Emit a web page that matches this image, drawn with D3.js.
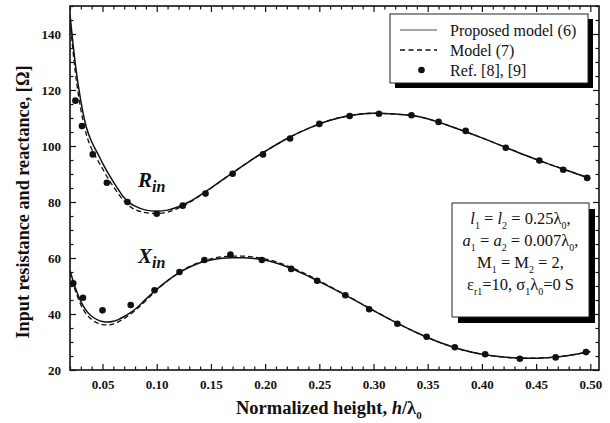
<!DOCTYPE html>
<html>
<head>
<meta charset="utf-8">
<script src="https://cdn.jsdelivr.net/npm/d3@7/dist/d3.min.js"></script>
<style>
  html, body { margin: 0; padding: 0; background: #fff; }
  svg { display: block; }
  svg text { font-family: "Liberation Serif", "Times New Roman", serif; fill: #111; }
</style>
</head>
<body>
<svg id="chart" width="610" height="423"></svg>
<script>
// ---------- DATA ----------
const hModel = [0.02,0.025,0.03,0.035,0.04,0.045,0.05,0.055,0.06,0.065,0.07,0.075,0.08,0.09,0.10,0.11,0.12,0.13,0.14,0.15,0.16,0.17,0.18,0.19,0.20,0.22,0.24,0.26,0.28,0.30,0.32,0.34,0.36,0.38,0.40,0.42,0.44,0.46,0.48,0.50];

const rProposed = [147,129,116,106.8,101.5,97.7,93.9,90.4,87.2,84.2,81.5,79.7,78.5,77.1,76.7,77.1,78.3,80.1,82.4,85.0,87.7,90.4,93.1,95.7,98.1,102.6,106.3,109.2,111.0,111.7,111.4,110.6,108.5,105.8,102.9,99.8,96.7,93.8,91.1,88.4];
const rModel7   = [145,126,113,104.2,98.9,95.3,91.9,88.5,85.5,82.7,80.3,78.5,77.3,76.2,75.9,76.4,77.8,79.8,82.3,84.9,87.7,90.4,93.1,95.7,98.1,102.6,106.3,109.2,111.0,111.7,111.4,110.6,108.5,105.8,102.9,99.8,96.7,93.8,91.1,88.4];

const xProposed = [55.5,49.3,44.5,41.2,39.2,38.0,37.3,37.1,37.4,38.1,39.1,40.3,41.7,45.3,48.8,51.9,54.6,56.7,58.3,59.3,59.9,60.1,60.1,59.8,59.2,56.9,53.5,49.6,45.5,41.2,37.1,33.3,30.0,27.4,25.6,24.6,24.2,24.4,25.2,26.6];
const xModel7   = [55.0,48.3,43.3,40.0,38.0,36.8,36.2,36.1,36.5,37.3,38.4,39.7,41.2,44.8,48.5,51.8,54.6,56.9,58.6,59.7,60.4,60.7,60.7,60.3,59.7,57.3,53.8,49.8,45.6,41.3,37.1,33.3,30.0,27.4,25.6,24.6,24.2,24.4,25.2,26.6];

const refHR = [0.025,0.031,0.041,0.054,0.073,0.100,0.124,0.145,0.170,0.198,0.223,0.250,0.278,0.305,0.335,0.360,0.385,0.422,0.453,0.475,0.497];
const refR  = [116.2,107.1,97.0,86.9,80.0,75.8,78.7,83.0,90.1,97.0,102.7,107.9,110.7,111.5,111.0,108.6,105.4,99.4,94.8,91.5,88.6];

const refHX = [0.023,0.032,0.050,0.076,0.098,0.121,0.144,0.168,0.197,0.224,0.248,0.274,0.296,0.322,0.349,0.375,0.403,0.435,0.468,0.496];
const refX  = [51.0,45.8,41.3,43.2,48.5,55.0,59.3,61.2,59.3,56.1,51.9,46.7,41.7,36.5,31.9,28.1,25.6,24.0,24.5,26.4];

const xMajorTicks = [0.05,0.10,0.15,0.20,0.25,0.30,0.35,0.40,0.45,0.50];
const xTickLabels = ["0.05","0.10","0.15","0.20","0.25","0.30","0.35","0.40","0.45","0.50"];
const yMajorTicks = [20,40,60,80,100,120,140];

const legendLabels = ["Proposed model (6)", "Model (7)", "Ref. [8], [9]"];

// ---------- LAYOUT ----------
const SERIF = '"Liberation Serif","Times New Roman",serif';
const svg = d3.select("#chart");
const L = 70, R = 599, T = 6, B = 370;

const x = d3.scaleLinear().domain([0.02, 0.508]).range([L, R]);
const y = d3.scaleLinear().domain([20, 150]).range([B, T]);

const xMinor = d3.range(2, 51).map(d => d / 100).filter(v => !xMajorTicks.some(m => Math.abs(m - v) < 1e-9));
const yMinor = d3.range(20, 151, 5).filter(v => v % 20 !== 0);

function styleAxis(g) {
  g.select(".domain").remove();
  g.selectAll(".tick line").attr("stroke", "#111").attr("stroke-width", 1.2);
  g.selectAll(".tick text")
    .style("font-family", SERIF)
    .style("font-weight", "bold").style("font-size", "13px").attr("fill", "#111");
}

// bottom
svg.append("g").attr("transform", `translate(0,${B})`)
  .call(d3.axisBottom(x).tickValues(xMajorTicks).tickFormat((d,i)=>xTickLabels[i]).tickSizeInner(-6).tickSizeOuter(0).tickPadding(10))
  .call(styleAxis);
svg.append("g").attr("transform", `translate(0,${B})`)
  .call(d3.axisBottom(x).tickValues(xMinor).tickFormat("").tickSizeInner(-3.5).tickSizeOuter(0))
  .call(styleAxis);
// top
svg.append("g").attr("transform", `translate(0,${T})`)
  .call(d3.axisTop(x).tickValues(xMajorTicks).tickFormat("").tickSizeInner(-6).tickSizeOuter(0))
  .call(styleAxis);
svg.append("g").attr("transform", `translate(0,${T})`)
  .call(d3.axisTop(x).tickValues(xMinor).tickFormat("").tickSizeInner(-3.5).tickSizeOuter(0))
  .call(styleAxis);
// left
svg.append("g").attr("transform", `translate(${L},0)`)
  .call(d3.axisLeft(y).tickValues(yMajorTicks).tickFormat(d3.format("d")).tickSizeInner(-6).tickSizeOuter(0).tickPadding(9))
  .call(styleAxis);
svg.append("g").attr("transform", `translate(${L},0)`)
  .call(d3.axisLeft(y).tickValues(yMinor).tickFormat("").tickSizeInner(-3.5).tickSizeOuter(0))
  .call(styleAxis);
// right
svg.append("g").attr("transform", `translate(${R},0)`)
  .call(d3.axisRight(y).tickValues(yMajorTicks).tickFormat("").tickSizeInner(-6).tickSizeOuter(0))
  .call(styleAxis);
svg.append("g").attr("transform", `translate(${R},0)`)
  .call(d3.axisRight(y).tickValues(yMinor).tickFormat("").tickSizeInner(-3.5).tickSizeOuter(0))
  .call(styleAxis);

// frame
svg.append("rect").attr("x", L).attr("y", T).attr("width", R - L).attr("height", B - T)
  .attr("fill", "none").attr("stroke", "#111").attr("stroke-width", 1.6);

// clip
svg.append("clipPath").attr("id", "plotclip").append("rect")
  .attr("x", L).attr("y", T).attr("width", R - L).attr("height", B - T);

const plot = svg.append("g").attr("clip-path", "url(#plotclip)");

const line = d3.line().x(d => x(d[0])).y(d => y(d[1])).curve(d3.curveMonotoneX);
function series(vals) { return hModel.map((h, i) => [h, vals[i]]); }

[[rProposed, null], [xProposed, null], [rModel7, "5,3"], [xModel7, "5,3"]].forEach(([vals, dash]) => {
  plot.append("path").datum(series(vals)).attr("d", line)
    .attr("fill", "none").attr("stroke", "#111")
    .attr("stroke-width", dash ? 1.3 : 1.5)
    .attr("stroke-dasharray", dash);
});

plot.append("g").selectAll("circle").data(refHR.map((h, i) => [h, refR[i]])).join("circle")
  .attr("cx", d => x(d[0])).attr("cy", d => y(d[1])).attr("r", 3.3).attr("fill", "#111");
plot.append("g").selectAll("circle").data(refHX.map((h, i) => [h, refX[i]])).join("circle")
  .attr("cx", d => x(d[0])).attr("cy", d => y(d[1])).attr("r", 3.3).attr("fill", "#111");

// curve labels
function subLabel(px, py, main, sub) {
  const t = svg.append("text").attr("x", px).attr("y", py)
    .style("font-family", SERIF).style("font-weight", "bold").style("font-style", "italic");
  t.append("tspan").style("font-size", "21px").text(main);
  t.append("tspan").style("font-size", "16px").attr("dy", 5).text(sub);
}
subLabel(138, 187, "R", "in");
subLabel(138, 263, "X", "in");

// axis titles
const xt = svg.append("text").attr("x", 236).attr("y", 414)
  .style("font-family", SERIF).style("font-weight", "bold").style("font-size", "18.5px");
xt.append("tspan").text("Normalized height, ");
xt.append("tspan").style("font-style", "italic").text("h");
xt.append("tspan").text("/λ");
xt.append("tspan").style("font-size", "11px").attr("dy", 5).text("0");

svg.append("text").attr("transform", "translate(29,202) rotate(-90)")
  .attr("text-anchor", "middle")
  .style("font-family", SERIF).style("font-weight", "bold").style("font-size", "18.2px")
  .text("Input resistance and reactance, [Ω]");

// legend box
const lg = { x: 390, y: 14, w: 198, h: 69 };
svg.append("rect").attr("x", lg.x + 5).attr("y", lg.y + 5).attr("width", lg.w).attr("height", lg.h).attr("fill", "#000");
svg.append("rect").attr("x", lg.x).attr("y", lg.y).attr("width", lg.w).attr("height", lg.h)
  .attr("fill", "#fff").attr("stroke", "#222").attr("stroke-width", 1);
const rowY = [30, 50, 70];
svg.append("line").attr("x1", 400).attr("x2", 437).attr("y1", rowY[0]).attr("y2", rowY[0])
  .attr("stroke", "#888").attr("stroke-width", 1.3);
svg.append("line").attr("x1", 400).attr("x2", 437).attr("y1", rowY[1]).attr("y2", rowY[1])
  .attr("stroke", "#111").attr("stroke-width", 1.3).attr("stroke-dasharray", "5,3.5");
svg.append("circle").attr("cx", 421.5).attr("cy", rowY[2]).attr("r", 3.3).attr("fill", "#111");
legendLabels.forEach((lab, i) => {
  svg.append("text").attr("x", 450).attr("y", rowY[i] + 5.5)
    .style("font-family", SERIF).style("font-size", "16px").attr("fill", "#222").text(lab);
});

// parameter box
const pb = { x: 452, y: 203, w: 137, h: 114 };
svg.append("rect").attr("x", pb.x + 6).attr("y", pb.y + 6).attr("width", pb.w).attr("height", pb.h).attr("fill", "#000");
svg.append("rect").attr("x", pb.x).attr("y", pb.y).attr("width", pb.w).attr("height", pb.h)
  .attr("fill", "#fff").attr("stroke", "#222").attr("stroke-width", 1);

const paramLines = [
  [["l", "i"], ["1", "s"], [" = ", ""], ["l", "i"], ["2", "s"], [" = 0.25λ", ""], ["0", "s"], [",", ""]],
  [["a", "i"], ["1", "s"], [" = ", ""], ["a", "i"], ["2", "s"], [" = 0.007λ", ""], ["0", "s"], [",", ""]],
  [["M", ""], ["1", "s"], [" = M", ""], ["2", "s"], [" = 2,", ""]],
  [["ε", ""], ["r1", "s"], ["=10, σ", ""], ["1", "s"], ["λ", ""], ["0", "s"], ["=0 S", ""]]
];
const pBase = [224, 246, 268, 290];
paramLines.forEach((segs, li) => {
  const t = svg.append("text").attr("x", pb.x + pb.w / 2).attr("y", pBase[li])
    .attr("text-anchor", "middle").style("font-family", SERIF).style("font-size", "16.5px").attr("fill", "#222");
  let down = false;
  segs.forEach(([s, k]) => {
    const sp = t.append("tspan").text(s);
    if (k === "i") sp.style("font-style", "italic");
    if (k === "s") { sp.style("font-size", "10px"); if (!down) { sp.attr("dy", 5); down = true; } }
    else if (down) { sp.attr("dy", -5); down = false; }
  });
});
</script>
</body>
</html>
